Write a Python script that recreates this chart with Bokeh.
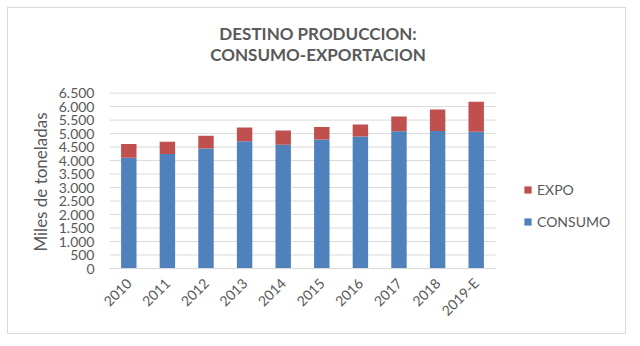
from math import pi
from bokeh.plotting import figure
from bokeh.models import (ColumnDataSource, FixedTicker, Legend, LegendItem, Label, Range1d)
from bokeh.embed import file_html
from bokeh.resources import INLINE

years = ["2010", "2011", "2012", "2013", "2014", "2015", "2016", "2017", "2018", "2019-E"]
consumo = [4100, 4240, 4450, 4720, 4585, 4780, 4890, 5090, 5100, 5070]
expo = [510, 455, 470, 505, 530, 460, 445, 545, 790, 1110]
y_ticks = [0, 500, 1000, 1500, 2000, 2500, 3000, 3500, 4000, 4500, 5000, 5500, 6000, 6500]
y_tick_labels = ["0", "500", "1.000", "1.500", "2.000", "2.500", "3.000", "3.500",
                 "4.000", "4.500", "5.000", "5.500", "6.000", "6.500"]
title_lines = ["DESTINO PRODUCCION:", "CONSUMO-EXPORTACION"]
y_axis_title = "Miles de toneladas"

BLUE = "#4F81BD"
RED = "#C0504D"
TXT = "#595959"
GRID = "#D9D9D9"
FONT = "Lato"

xs = list(range(len(years)))
source = ColumnDataSource(dict(x=xs, year=years, consumo=consumo, expo=expo))

y_top = y_ticks[-1]
frame_h = 260
axis_h = 175.4
p = figure(x_range=Range1d(-0.5, -0.5 + 518 / 38.6),
           y_range=Range1d(0, y_top * frame_h / axis_h),
           width=619, height=327, output_backend="svg", toolbar_location=None,
           min_border_left=101, min_border_right=0, min_border_top=0,
           min_border_bottom=67)
p.styles = {"margin-left": "7px", "margin-top": "7px", "border": "1px solid #D9D9D9"}

p.outline_line_color = None
p.xgrid.grid_line_color = None
p.ygrid.grid_line_color = None

# horizontal gridlines limited to the category area
p.segment(x0=-0.5, x1=len(years) - 0.5, y0=y_ticks, y1=y_ticks,
          line_color=GRID, line_width=1)

rs = p.vbar_stack(["consumo", "expo"], x="x", width=0.4, color=[BLUE, RED],
                  line_color=None, source=source)

p.yaxis.ticker = FixedTicker(ticks=y_ticks)
p.yaxis.bounds = (y_ticks[0], y_ticks[-1])
p.yaxis.major_label_overrides = {t: l for t, l in zip(y_ticks, y_tick_labels)}
p.yaxis.axis_line_color = None
p.yaxis.major_tick_line_color = None
p.yaxis.minor_tick_line_color = None
p.yaxis.major_tick_out = 0
p.yaxis.major_tick_in = 0
p.yaxis.major_label_standoff = 15
p.yaxis.major_label_text_font = FONT
p.yaxis.major_label_text_font_size = "14px"
p.yaxis.major_label_text_color = TXT
# trailing no-break spaces shift the centred label down to the 0-6500 span
p.yaxis.axis_label = y_axis_title + "\u00a0" * 20
p.yaxis.axis_label_text_font = FONT
p.yaxis.axis_label_text_font_size = "17px"
p.yaxis.axis_label_text_font_style = "normal"
p.yaxis.axis_label_text_color = TXT
p.yaxis.axis_label_standoff = 5

p.xaxis.ticker = FixedTicker(ticks=xs)
p.xaxis.major_label_overrides = {i: y for i, y in zip(xs, years)}
p.xaxis.bounds = (-0.5, len(years) - 0.5)
p.xaxis.axis_line_color = GRID
p.xaxis.major_tick_line_color = None
p.xaxis.minor_tick_line_color = None
p.xaxis.major_tick_out = 0
p.xaxis.major_tick_in = 0
p.xaxis.major_label_orientation = pi / 4
p.xaxis.major_label_standoff = 12
p.xaxis.major_label_text_font = FONT
p.xaxis.major_label_text_font_size = "14px"
p.xaxis.major_label_text_color = TXT

legend = Legend(items=[LegendItem(label="EXPO", renderers=[rs[1]]),
                       LegendItem(label="CONSUMO", renderers=[rs[0]])],
                location=(414, 37), glyph_width=9, glyph_height=9, label_standoff=5,
                spacing=12, padding=0, margin=0, border_line_color=None,
                background_fill_alpha=0, label_text_font=FONT,
                label_text_font_size="14px", label_text_color=TXT, label_height=20)
p.add_layout(legend)

for txt, yy in zip(title_lines, [235.3, 213.7]):
    p.add_layout(Label(x=208.5, y=yy, x_units="screen", y_units="screen", text=txt,
                       text_align="center", text_baseline="alphabetic",
                       text_font=FONT, text_font_style="bold", text_font_size="17px",
                       text_color=TXT))

open("out.html", "w").write(file_html(p, INLINE))
